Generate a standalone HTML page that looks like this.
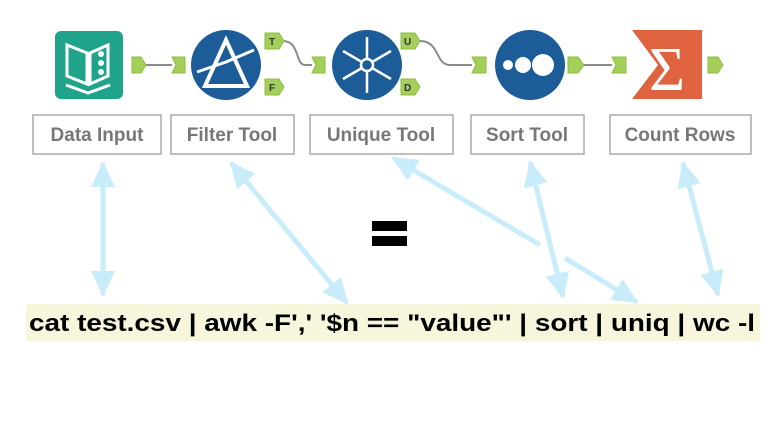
<!DOCTYPE html>
<html><head><style>
html,body{margin:0;padding:0;background:#fff;}
svg{display:block;}
</style></head><body>
<svg width="778" height="424" viewBox="0 0 778 424" xmlns="http://www.w3.org/2000/svg">
<defs>
<marker id="ah" markerUnits="userSpaceOnUse" markerWidth="26" markerHeight="24" refX="24" refY="12" orient="auto-start-reverse" viewBox="0 0 26 24">
<path d="M0 0 L26 12 L0 24 Z" fill="#c9ecfb"/>
</marker>
</defs>
<!-- connectors -->
<g fill="none" stroke="#8a8a8a" stroke-width="2">
<path d="M145 65 H172"/>
<path d="M283 41 C300 41 295 65 305 65 H312"/>
<path d="M420 41 C440 41 435 65 450 65 H472"/>
<path d="M582 65 H612"/>
</g>
<!-- tabs -->
<g fill="#a4cf5a" stroke="#8cbf3c" stroke-width="1">
<path d="M132 57 H141 L146 65 L141 73 H132 Z"/>
<path d="M172 57 H185 V73 H172 L176 65 Z"/>
<path d="M265 33 H279 L284 41 L279 49 H265 Z"/>
<path d="M265 79 H279 L284 87 L279 95 H265 Z"/>
<path d="M312 57 H325 V73 H312 L316 65 Z"/>
<path d="M401 33 H415 L420 41 L415 49 H401 Z"/>
<path d="M401 79 H415 L420 87 L415 95 H401 Z"/>
<path d="M472 57 H486 V73 H472 L476 65 Z"/>
<path d="M568 57 H578 L584 65 L578 73 H568 Z"/>
<path d="M612 57 H626 V73 H612 L616 65 Z"/>
<path d="M708 57 H718 L723 65 L718 73 H708 Z"/>
</g>
<g font-family="Liberation Sans, sans-serif" font-weight="bold" font-size="10" fill="#333">
<text x="269" y="45">T</text><text x="269" y="91">F</text>
<text x="404" y="45">U</text><text x="404" y="91">D</text>
</g>
<!-- data input -->
<rect x="55" y="31" width="68" height="68" rx="6" fill="#1fa38a"/>
<path d="M67 45 L87 53 V84 L67 76 Z M108 45 L90 53 V84 L108 76 Z" fill="none" stroke="#fff" stroke-width="3"/>
<circle cx="101" cy="54" r="3" fill="#fff"/><circle cx="101" cy="63" r="3" fill="#fff"/><circle cx="101" cy="72" r="3" fill="#fff"/>
<path d="M66 85 L88 93 L110 85" fill="none" stroke="#fff" stroke-width="3"/>
<!-- filter -->
<circle cx="226" cy="65" r="35" fill="#1c5c99"/>
<path d="M226 40 L247 86 H205 Z" fill="none" stroke="#fff" stroke-width="4"/>
<path d="M197 72 L226 62 L254 50" stroke="#fff" stroke-width="3" fill="none"/>
<!-- unique -->
<circle cx="367" cy="65" r="35" fill="#1c5c99"/>
<g stroke="#fff" stroke-width="2.5">
<line x1="367" y1="37" x2="367" y2="93"/><line x1="343" y1="51" x2="391" y2="79"/><line x1="343" y1="79" x2="391" y2="51"/>
</g>
<circle cx="367" cy="65" r="6" fill="#1c5c99" stroke="#fff" stroke-width="2.5"/>
<!-- sort -->
<circle cx="530" cy="65" r="35" fill="#1c5c99"/>
<circle cx="508" cy="65" r="5" fill="#fff"/><circle cx="523" cy="65" r="8" fill="#fff"/><circle cx="543" cy="65" r="11" fill="#fff"/>
<!-- count rows -->
<path d="M632 30 H702 V99 H632 L658 65 Z" fill="#e0633f"/>
<text x="667" y="90" font-family="Liberation Serif, serif" font-size="62" fill="#fff" text-anchor="middle">Σ</text>
<!-- labels -->
<g fill="#fff" stroke="#aaa" stroke-width="1.5">
<rect x="33" y="115" width="128" height="39"/>
<rect x="171" y="115" width="123" height="39"/>
<rect x="310" y="115" width="143" height="39"/>
<rect x="471" y="115" width="113" height="39"/>
<rect x="610" y="115" width="141" height="39"/>
</g>
<g font-family="Liberation Sans, sans-serif" font-weight="bold" font-size="19" fill="#777" text-anchor="middle">
<text x="97" y="141">Data Input</text>
<text x="232" y="141">Filter Tool</text>
<text x="381" y="141">Unique Tool</text>
<text x="527" y="141">Sort Tool</text>
<text x="680" y="141">Count Rows</text>
</g>
<!-- arrows -->
<g stroke="#c9ecfb" stroke-width="5" fill="none">
<line x1="103" y1="163" x2="103" y2="295" marker-start="url(#ah)" marker-end="url(#ah)"/>
<line x1="231" y1="163" x2="347" y2="303" marker-start="url(#ah)" marker-end="url(#ah)"/>
<line x1="540" y1="245" x2="393" y2="158" marker-end="url(#ah)"/>
<line x1="565" y1="258" x2="637" y2="302" marker-end="url(#ah)"/>
<line x1="530" y1="162" x2="563" y2="297" marker-start="url(#ah)" marker-end="url(#ah)"/>
<line x1="683" y1="163" x2="718" y2="295" marker-start="url(#ah)" marker-end="url(#ah)"/>
</g>
<!-- equals -->
<rect x="372" y="221" width="35" height="10" fill="#000"/>
<rect x="372" y="236" width="35" height="10" fill="#000"/>
<!-- command -->
<rect x="26" y="304" width="734" height="37" fill="#f7f6dc"/>
<text x="29" y="331" font-family="Liberation Sans, sans-serif" font-weight="bold" font-size="24" fill="#000" textLength="726" lengthAdjust="spacingAndGlyphs">cat test.csv | awk -F',' '$n == "value"' | sort | uniq | wc -l</text>
</svg>
</body></html>
